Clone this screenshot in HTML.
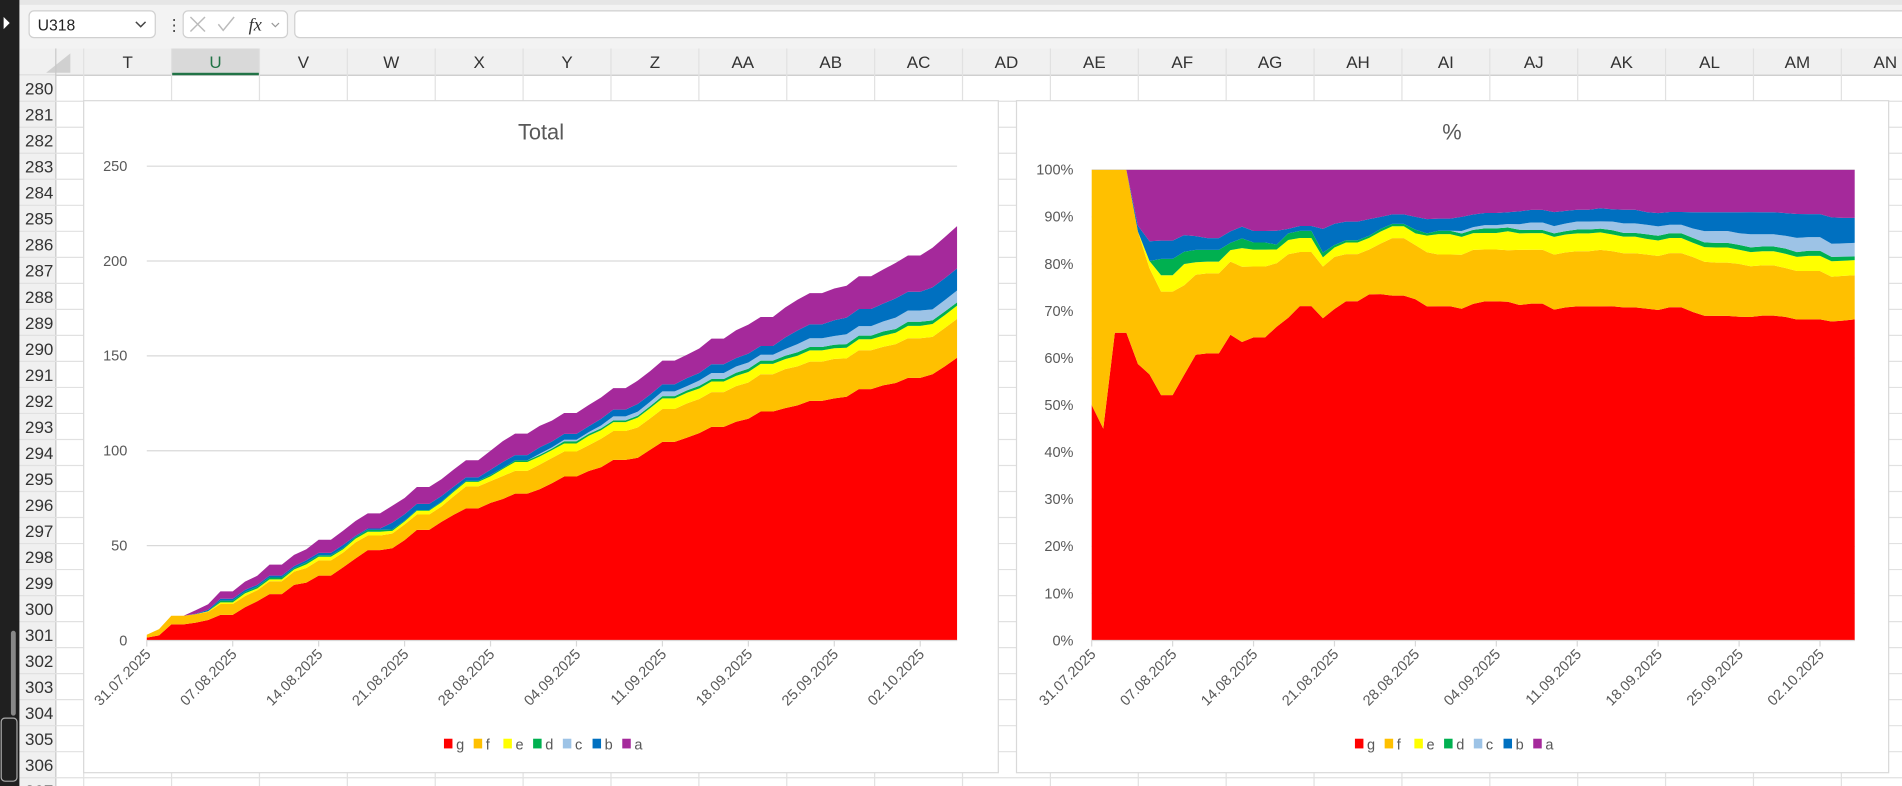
<!DOCTYPE html>
<html><head><meta charset="utf-8"><style>
html,body{margin:0;padding:0;width:1902px;height:786px;overflow:hidden;background:#fff;font-family:"Liberation Sans",sans-serif}
#stage{position:absolute;left:0;top:0;width:1568px;height:648px;transform:scale(1.21301);transform-origin:0 0;background:#fff}
.abs{position:absolute}
</style></head><body>
<div id="stage">
<svg id="sheet" width="1568" height="648" style="position:absolute;left:0;top:0"></svg>
<svg id="c1" width="1568" height="648" style="position:absolute;left:0;top:0"></svg>
<svg id="c2" width="1568" height="648" style="position:absolute;left:0;top:0"></svg>
</div>
<script>
const dates=["31.07.2025","07.08.2025","14.08.2025","21.08.2025","28.08.2025","04.09.2025","11.09.2025","18.09.2025","25.09.2025","02.10.2025"];
const seriesNames=["g","f","e","d","c","b","a"];
const seriesColors=["#ff0000","#ffc000","#ffff00","#00b050","#9dc3e6","#0070c0","#a5299b"];
const yTicksTotal=[0,50,100,150,200,250];
const yTicksPct=[0,10,20,30,40,50,60,70,80,90,100];
const gVals=[1.5,2.7,8.5,8.5,9.4,10.8,13.5,13.5,17.5,20.7,24.4,24.4,29.3,30.5,34.2,34.2,38.6,43.2,47.6,47.6,48.6,52.9,58.3,58.3,62.5,66.3,69.6,69.6,72.5,74.6,77.4,77.4,79.7,82.9,86.4,86.4,89.3,91.3,95.2,95.2,96.3,100.5,104.7,104.7,106.9,109.3,112.6,112.6,115.3,116.9,120.7,120.7,122.5,123.9,126.3,126.3,127.6,128.5,132.5,132.5,134.5,135.7,138.4,138.4,140.3,144.5,149.0];
const fVals=[1.5,3.3,4.5,4.5,4.5,4.3,5.7,5.7,5.9,5.8,6.8,6.8,7.0,7.7,8.0,8.0,7.8,8.5,7.7,7.7,7.8,8.3,8.1,8.1,8.1,9.7,11.6,11.6,11.5,12.1,12.0,12.0,13.0,13.3,13.2,13.2,13.6,15.0,15.2,15.2,16.0,16.6,17.3,17.3,18.1,18.0,18.3,18.3,18.8,19.1,19.6,19.6,20.5,20.6,20.7,20.7,20.8,20.2,20.5,20.5,20.3,20.5,20.9,20.9,19.7,20.2,20.5];
const eVals=[0,0,0,0,0,0.3,0.9,0.9,1.4,0.9,1.0,1.0,1.1,1.9,1.9,1.9,1.7,1.9,2.0,2.0,1.4,1.5,2.0,2.0,2.1,2.3,2.4,2.4,2.5,3.7,4.7,4.7,4.3,4.1,4.2,4.2,5.0,4.5,4.7,4.7,5.2,5.4,5.6,5.6,5.6,5.5,5.6,5.6,5.4,5.5,5.5,5.5,5.3,5.6,5.9,5.9,5.6,5.6,5.8,5.8,5.9,6.0,6.5,6.5,6.8,6.8,7.0];
const dVals=[0,0,0,0,0,0,0.9,0.9,0.8,0.9,1.0,1.0,0.7,1.0,0.8,0.8,0.6,0.9,1.0,1.0,0.7,0.4,0.4,0.4,0.4,0.5,0.5,0.5,0.8,0.5,0.8,0.8,0.8,0.8,1.2,1.2,1.0,1.0,0.9,0.9,1.0,1.0,1.2,1.2,1.2,1.4,1.3,1.3,1.6,1.7,1.7,1.7,1.8,1.8,1.8,1.8,1.9,1.9,1.9,1.9,2.2,2.0,2.2,2.2,1.9,1.9,1.7];
const cVals=[0,0,0,0,0,0,0,0,0,0,0,0,0,0,0,0,0,0,0,0,0,0,0,0,0,0,0,0,0,0,0,0,0.6,0.7,0.8,0.8,0.9,1.5,2.1,2.1,2.1,2.3,2.5,2.5,2.3,2.8,3.2,3.2,3.3,3.3,3.1,3.1,3.5,4.3,4.6,4.6,4.6,5.2,5.0,5.0,5.3,6.0,5.9,5.9,5.8,6.0,6.3];
const bVals=[0,0,0,0,0.2,0.8,1.0,1.0,1.1,1.0,1.0,1.0,1.1,1.2,1.3,1.3,1.7,0.6,0.7,0.7,3.6,3.4,3.2,3.2,3.0,2.3,1.9,1.9,2.7,3.2,2.8,2.8,3.4,3.1,3.1,3.1,3.1,3.5,3.6,3.6,4.1,3.8,3.7,3.7,4.2,4.0,4.6,4.6,4.4,4.7,4.6,4.6,6.1,7.2,7.3,7.3,8.3,8.8,9.0,9.0,9.4,10.1,9.9,9.9,11.6,11.5,11.6];
const aVals=[0,0,0,0,1.9,2.9,3.9,3.9,4.3,4.8,5.8,5.8,5.9,5.8,6.9,6.9,7.5,7.9,8.0,8.0,8.9,8.6,8.9,8.9,8.9,9.0,9.0,9.0,10,11.0,11.3,11.3,11.3,11.0,11.0,11.0,11.2,11.3,11.3,11.3,12.3,12.4,12.5,12.5,12.3,12.9,13.5,13.5,14.7,15.3,15.3,15.3,15.8,16.2,16.5,16.5,16.7,16.8,17.3,17.3,18.0,18.7,19.1,19.1,20.9,21.7,22.3];
const series=[gVals,fVals,eVals,dVals,cVals,bVals,aVals];
const NS="http://www.w3.org/2000/svg";
function mk(parent,tag,attrs,txt){const e=document.createElementNS(NS,tag);for(const k in attrs)e.setAttribute(k,attrs[k]);if(txt!==undefined)e.textContent=txt;parent.appendChild(e);return e;}

/* ---------- spreadsheet chrome ---------- */
const sh=document.getElementById('sheet');
let r;
r=mk(sh,'rect',{x:0,y:0,width:1568,height:648,fill:'#ffffff'});
r=mk(sh,'rect',{x:0,y:0,width:1568,height:62,fill:'#f3f3f3'});

r=mk(sh,'rect',{x:16,y:0,width:1552,height:4,fill:'#e6e6e6'});
r=mk(sh,'rect',{x:24,y:9,width:104,height:22,rx:4,fill:'#fff',stroke:'#d0d0d0'});

mk(sh,'text',{x:31,y:25,'font-size':13,fill:'#222'},'U318');
mk(sh,'path',{d:'M112 18 l4 4 l4 -4',stroke:'#444',fill:'none','stroke-width':1.2});
mk(sh,'text',{x:137,y:25,'font-size':13,fill:'#444'},'⋮');
r=mk(sh,'rect',{x:151,y:9,width:86,height:22,rx:4,fill:'#fff',stroke:'#d0d0d0'});

mk(sh,'path',{d:'M157 14 l12 12 M169 14 l-12 12',stroke:'#bbb','stroke-width':1.2});
mk(sh,'path',{d:'M180 20 l4 5 l9 -11',stroke:'#bbb','stroke-width':1.2,fill:'none'});
mk(sh,'text',{x:205,y:25,'font-size':15,'font-style':'italic','font-family':'Liberation Serif',fill:'#333'},'fx');
mk(sh,'path',{d:'M224 19 l3 3 l3 -3',stroke:'#999',fill:'none'});
r=mk(sh,'rect',{x:243,y:9,width:1340,height:22,rx:4,fill:'#fff',stroke:'#d0d0d0'});

/* column headers */
const cols=["T","U","V","W","X","Y","Z","AA","AB","AC","AD","AE","AF","AG","AH","AI","AJ","AK","AL","AM","AN"];
const colX0=69,colW=72.45;
mk(sh,'rect',{x:16,y:40,width:1552,height:22,fill:'#f0f0f0'});
mk(sh,'line',{x1:16,y1:62,x2:1568,y2:62,stroke:'#c8c8c8'});
mk(sh,'path',{d:'M38 60 L58 60 L58 44 Z',fill:'#d0d0d0'});
for(let i=0;i<cols.length;i++){
  const x=colX0+i*colW;
  if(i===1){mk(sh,'rect',{x:x,y:40,width:colW,height:22,fill:'#d9d9d9'});mk(sh,'rect',{x:x,y:60,width:colW,height:2,fill:'#217346'});}
  const t=mk(sh,'text',{x:x+colW/2,y:56,'font-size':14,'text-anchor':'middle',fill:i===1?'#217346':'#333'},cols[i]);
  
  
  mk(sh,'line',{x1:x,y1:40,x2:x,y2:648,stroke:'#e1e1e1'});
}
mk(sh,'line',{x1:46,y1:62,x2:46,y2:648,stroke:'#e1e1e1'});
/* row headers */
mk(sh,'rect',{x:16,y:62,width:30,height:586,fill:'#f0f0f0'});
mk(sh,'line',{x1:46,y1:40,x2:46,y2:648,stroke:'#c8c8c8'});
for(let i=0;i<28;i++){
  const y=62+i*21.45;
  mk(sh,'line',{x1:16,y1:y+21.45,x2:1568,y2:y+21.45,stroke:'#e1e1e1'});
  const t=mk(sh,'text',{x:44,y:y+16,'font-size':14,'text-anchor':'end',fill:'#333'},String(280+i));
  
  
}
r=mk(sh,'rect',{x:0,y:0,width:16,height:648,fill:'#202020'});

mk(sh,'path',{d:'M3 14 l5 5 l-5 5 z',fill:'#fff'});
mk(sh,'rect',{x:9,y:520,width:4,height:70,rx:2,fill:'#888'});
mk(sh,'rect',{x:1,y:592,width:13,height:52,rx:3,fill:'none',stroke:'#aaa'});

/* ---------- chart builder ---------- */
function buildChart(svg,box,plot,title,pct){
  const N=gVals.length;
  const bg=mk(svg,'rect',{x:box.x,y:box.y,width:box.w,height:box.h,fill:'#fff',stroke:'#d9d9d9'});
  
  const tt=mk(svg,'text',{x:plot.tx,y:box.y+32,'font-size':18,'text-anchor':'middle',fill:'#595959'},title);
  
  const ticks=pct?yTicksPct:yTicksTotal;
  const yMax=ticks[ticks.length-1];
  const xS=i=>plot.x0+(plot.x1-plot.x0)*i/(N-1);
  const yS=v=>plot.yb-(plot.yb-plot.yt)*v/yMax;
  ticks.forEach(v=>{
    if(v>0){const gl=mk(svg,'line',{x1:plot.x0,y1:yS(v),x2:plot.x1,y2:yS(v),stroke:'#d9d9d9'});
    }
    const t=mk(svg,'text',{x:plot.x0-(pct?15:16),y:yS(v)+4,'font-size':12,'text-anchor':'end',fill:'#595959'},pct?v+'%':String(v));
    
  });
  const totals=[];for(let i=0;i<N;i++){let s=0;series.forEach(a=>s+=a[i]);totals.push(s);}
  const base=new Array(N).fill(0);
  series.forEach((arr,si)=>{
    const top=[];for(let i=0;i<N;i++){const v=pct?(totals[i]>0?arr[i]/totals[i]*100:0):arr[i];top.push(base[i]+v);}
    let d='';
    for(let i=0;i<N;i++)d+=(i?'L':'M')+xS(i).toFixed(2)+' '+yS(top[i]).toFixed(2)+' ';
    for(let i=N-1;i>=0;i--)d+='L'+xS(i).toFixed(2)+' '+yS(base[i]).toFixed(2)+' ';
    const p=mk(svg,'path',{d:d+'Z',fill:seriesColors[si]});
    
    
    for(let i=0;i<N;i++)base[i]=top[i];
  });
  mk(svg,'line',{x1:plot.x0,y1:plot.yb,x2:plot.x1,y2:plot.yb,stroke:'#d9d9d9'});
  dates.forEach((lab,k)=>{
    const x=xS(k*7);
    mk(svg,'line',{x1:x,y1:plot.yb,x2:x,y2:plot.yb+5,stroke:'#d9d9d9'});
    const t=mk(svg,'text',{x:x+4,y:plot.yb+12,'font-size':12,'text-anchor':'end',fill:'#595959',transform:'rotate(-45 '+(x+4)+' '+(plot.yb+12)+')'},lab);
    
  });
  const lg=mk(svg,'g',{});
  
  const lx=plot.tx-80;
  seriesNames.forEach((n,i)=>{
    const g=mk(lg,'g',{});
    
    
    mk(g,'rect',{x:lx+i*24.5,y:609,width:7,height:8,fill:seriesColors[i]});
    mk(g,'text',{x:lx+i*24.5+10,y:618,'font-size':12,fill:'#595959'},n);
  });
}
buildChart(document.getElementById('c1'),{x:69,y:83,w:754,h:554},{x0:121,x1:789,yt:137,yb:528,tx:446},'Total',false);
buildChart(document.getElementById('c2'),{x:838,y:83,w:719,h:554},{x0:900,x1:1529,yt:140,yb:528,tx:1197},'%',true);
</script>
</body></html>
